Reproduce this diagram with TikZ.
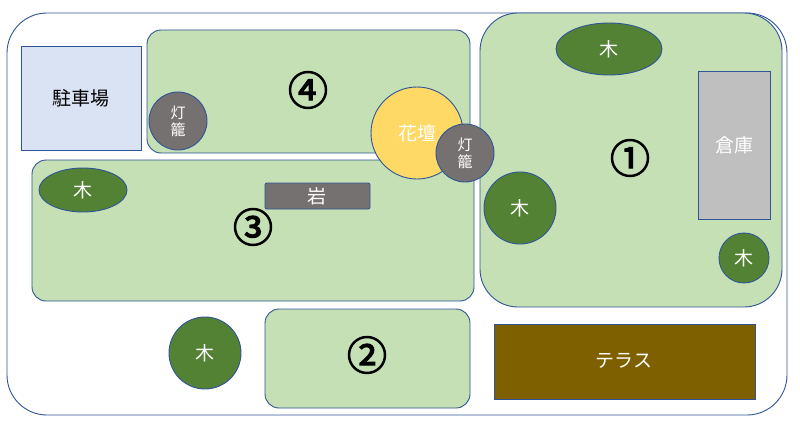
\documentclass[tikz,border=0pt]{standalone}
\usepackage{fontspec}
\setmainfont{Noto Sans CJK JP}
\newfontfamily\numfont[FakeBold=3]{Noto Sans CJK JP}
\usetikzlibrary{shapes.geometric}
\definecolor{bord}{HTML}{2F5597}
\definecolor{lawn}{HTML}{C5E0B4}
\definecolor{tree}{HTML}{548235}
\definecolor{lamp}{HTML}{767171}
\definecolor{flower}{HTML}{FFD966}
\definecolor{park}{HTML}{DAE3F3}
\definecolor{shed}{HTML}{BFBFBF}
\definecolor{terrace}{HTML}{7F6000}
\tikzset{
 x=1pt,y=-1pt,
 area/.style={draw=bord,fill=lawn,line width=0.9pt,rounded corners=14pt},
 num/.style={font=\numfont\fontsize{40}{40}\selectfont},
 lbl/.style={text=white,font=\fontsize{19}{19}\selectfont,inner sep=0pt},
 treec/.style={circle,draw=bord,fill=tree,line width=0.9pt,lbl},
 treee/.style={ellipse,draw=bord,fill=tree,line width=0.9pt,lbl},
 lampc/.style={circle,draw=bord,fill=lamp,line width=0.9pt,minimum size=58pt,lbl,font=\fontsize{15}{17}\selectfont,align=center},
 boxr/.style={draw=bord,line width=0.9pt},
}
\begin{document}
\begin{tikzpicture}
\useasboundingbox (0,0) rectangle (800,428);
\draw[boxr,rounded corners=40pt] (7,13) rectangle (787,415);
\draw[boxr,fill=park] (21,46) rectangle (141,150);
\node[font=\fontsize{19}{19}\selectfont] (park) at (81,98) {駐車場};
\draw[area] (147,30) rectangle (470,153);
\node[num] (n4) at (308,90) {④};
\draw[area,rounded corners=38pt] (480,13) rectangle (782,307);
\node[num] (n1) at (630,158) {①};
\draw[area] (32,160) rectangle (474,301);
\node[num] (n3) at (253,227) {③};
\draw[area] (265,309) rectangle (470,408);
\node[num] (n2) at (367,355) {②};
\draw[boxr,fill=shed] (698,71) rectangle (770,219);
\node[lbl] (shed) at (734,145) {倉庫};
\draw[boxr,fill=terrace] (494,324) rectangle (755,399);
\node[lbl] (terr) at (624,361) {テラス};
\draw[boxr,fill=lamp,rounded corners=2pt] (265,183) rectangle (370,209);
\node[lbl] (rock) at (317,196) {岩};
\node[treee,minimum width=106pt,minimum height=52pt] (t1) at (609,49) {木};
\node[treec,minimum size=72pt] (t2) at (520,208) {木};
\node[treec,minimum size=50pt] (t3) at (744,258) {木};
\node[treee,minimum width=88pt,minimum height=44pt] (t4) at (83,190) {木};
\node[treec,minimum size=72pt] (t5) at (205,353) {木};
\node[lampc] (l1) at (178,121) {灯\\籠};
\node[circle,draw=bord,fill=flower,line width=0.9pt,minimum size=92pt,lbl] (fl) at (417,133) {花壇};
\node[lampc] (l2) at (465,153) {灯\\籠};
\end{tikzpicture}
\end{document}
